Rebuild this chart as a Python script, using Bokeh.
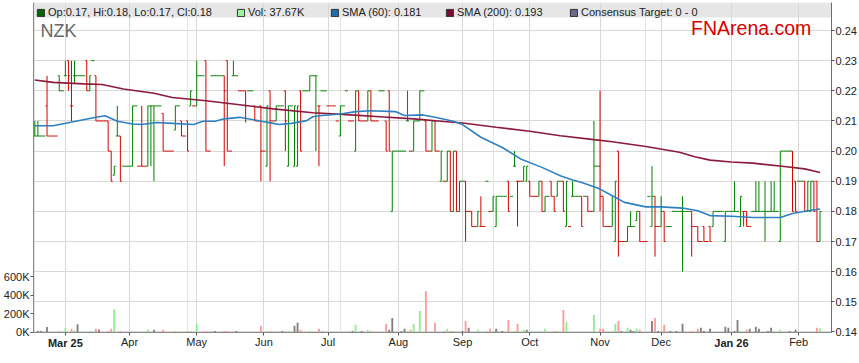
import pandas as pd
from bokeh.plotting import figure
from bokeh.models import (ColumnDataSource, Range1d, LinearAxis, FixedTicker, Grid,
                          BoxAnnotation, Label, Legend, LegendItem, PrintfTickFormatter)
from bokeh.embed import file_html
from bokeh.resources import INLINE

# ---------------- data ----------------
ticker_name = "NZK"
first_trading_day = "2025-02-17"

opens = [
    .205,.205,.205,.205,.215,.205,.205,.205,.225,.22,
    .225,.23,.215,.225,.225,.225,.225,.23,.22,.23,
    .225,.21,.21,.21,.21,.20,.192,.205,.205,.195,
    .195,.195,.195,.215,.195,.195,.195,.195,.215,.215,
    .215,.215,.2125,.20,.20,.20,.207,.215,.21,.205,
    .21,.215,.215,.215,.225,.225,.23,.20,.225,.225,
    .225,.225,.225,.23,.20,.225,.225,.22,.22,.22,
    .22,.22,.215,.21,.215,.20,.195,.22,.21,.21,
    .215,.215,.22,.195,.215,.195,.195,.22,.22,.22,
    .22,.225,.225,.215,.22,.22,.215,.215,.215,.21,
    .205,.215,.22,.21,.21,.20,.22,.21,.21,.21,
    .22,.21,.21,.22,.22,.21,.22,.18,.20,.20,
    .20,.20,.21,.20,.20,.21,.21,.22,.21,.20,
    .20,.21,.20,.19,.19,.19,.20,.18,.20,.18,
    .19,.19,.18,.18,.175,.175,.175,.175,.19,.18,
    .18,.175,.185,.185,.185,.19,.185,.195,.19,.19,
    .19,.19,.19,.185,.185,.185,.19,.18,.185,.19,
    .185,.185,.19,.19,.175,.175,.185,.185,.185,.185,
    .185,.185,.18,.18,.195,.195,.185,.175,.175,.175,
    .17,.20,.17,.17,.17,.175,.175,.177,.18,.17,
    .17,.185,.175,.185,.175,.175,.18,.175,.175,.18,
    .18,.18,.18,.18,.18,.18,.175,.175,.17,.175,
    .17,.175,.175,.18,.18,.18,.17,.18,.18,.18,
    .18,.175,.18,.18,.175,.18,.18,.18,.18,.18,
    .18,.18,.18,.18,.17,.20,.20,.20,.20,.19,
    .19,.19,.19,.18,.18,.19,.19,.17,
]
highs = [
    .21,.21,.205,.205,.225,.205,.205,.205,.225,.22,
    .23,.23,.23,.23,.225,.225,.225,.23,.225,.23,
    .225,.21,.21,.21,.21,.20,.195,.215,.205,.195,
    .195,.195,.215,.215,.195,.215,.195,.215,.215,.215,
    .215,.215,.2125,.20,.20,.20,.215,.215,.21,.205,
    .21,.22,.215,.23,.225,.225,.23,.20,.225,.225,
    .225,.225,.225,.23,.20,.23,.225,.22,.22,.22,
    .22,.22,.215,.21,.215,.20,.215,.22,.21,.215,
    .215,.215,.22,.215,.215,.215,.215,.22,.22,.22,
    .225,.225,.225,.215,.22,.22,.215,.215,.215,.21,
    .215,.215,.22,.21,.21,.22,.22,.21,.21,.22,
    .22,.21,.21,.22,.22,.21,.22,.20,.20,.20,
    .20,.20,.22,.20,.21,.21,.22,.22,.21,.20,
    .21,.21,.20,.20,.19,.20,.20,.20,.20,.19,
    .19,.19,.18,.18,.175,.18,.185,.175,.19,.18,
    .185,.185,.185,.185,.185,.19,.185,.20,.19,.19,
    .195,.195,.19,.185,.185,.19,.19,.185,.185,.19,
    .185,.19,.19,.19,.19,.175,.19,.185,.185,.185,
    .185,.185,.18,.21,.195,.22,.185,.175,.175,.185,
    .19,.20,.17,.17,.175,.18,.175,.18,.18,.17,
    .17,.185,.195,.185,.175,.185,.18,.175,.175,.18,
    .18,.18,.185,.18,.18,.18,.175,.175,.17,.175,
    .17,.175,.18,.18,.18,.18,.18,.18,.18,.19,
    .18,.185,.18,.18,.175,.18,.19,.19,.18,.19,
    .18,.19,.19,.18,.20,.20,.20,.20,.20,.19,
    .19,.19,.19,.19,.19,.19,.19,.18,
]
lows = [
    .205,.205,.205,.205,.205,.205,.205,.205,.22,.22,
    .225,.22,.21,.2225,.225,.225,.225,.22,.22,.23,
    .21,.21,.21,.21,.20,.19,.192,.205,.19,.195,
    .195,.195,.195,.215,.195,.195,.195,.195,.195,.19,
    .215,.215,.20,.20,.20,.20,.207,.215,.205,.205,
    .20,.215,.215,.215,.225,.225,.20,.20,.225,.225,
    .225,.225,.195,.20,.20,.225,.225,.22,.22,.2095,
    .22,.22,.21,.21,.19,.20,.195,.19,.21,.21,
    .215,.215,.20,.195,.215,.195,.195,.20,.22,.22,
    .22,.225,.20,.195,.22,.22,.215,.215,.215,.21,
    .205,.215,.22,.21,.21,.20,.21,.21,.21,.21,
    .21,.21,.21,.22,.22,.20,.20,.18,.20,.20,
    .20,.20,.21,.20,.20,.21,.21,.22,.20,.20,
    .20,.20,.20,.19,.19,.19,.18,.18,.18,.18,
    .19,.17,.18,.175,.175,.175,.175,.175,.19,.18,
    .18,.175,.185,.185,.185,.18,.185,.195,.175,.19,
    .19,.19,.185,.185,.185,.185,.18,.18,.185,.185,
    .18,.185,.19,.18,.175,.175,.185,.185,.185,.175,
    .185,.18,.18,.18,.195,.18,.175,.175,.175,.175,
    .17,.165,.17,.17,.17,.175,.175,.177,.17,.17,
    .17,.185,.175,.165,.175,.175,.17,.175,.175,.18,
    .18,.18,.16,.18,.18,.165,.175,.17,.17,.17,
    .17,.17,.175,.18,.18,.18,.17,.18,.18,.18,
    .18,.175,.175,.175,.175,.18,.18,.18,.18,.17,
    .18,.18,.18,.18,.17,.20,.20,.20,.18,.18,
    .19,.19,.18,.18,.18,.18,.17,.17,
]
closes = [
    .205,.205,.205,.205,.205,.205,.205,.205,.22,.22,
    .225,.225,.215,.225,.225,.225,.225,.22,.225,.23,
    .21,.21,.21,.21,.20,.19,.195,.205,.19,.195,
    .195,.195,.215,.215,.195,.195,.195,.215,.215,.215,
    .215,.215,.20,.20,.20,.20,.215,.215,.205,.205,
    .20,.22,.215,.225,.225,.225,.20,.20,.225,.225,
    .225,.225,.22,.20,.20,.225,.225,.22,.22,.215,
    .22,.22,.21,.21,.20,.20,.215,.21,.21,.215,
    .215,.215,.21,.215,.215,.215,.215,.20,.22,.22,
    .225,.225,.225,.215,.22,.22,.215,.215,.215,.21,
    .215,.215,.22,.21,.21,.22,.21,.21,.21,.22,
    .21,.21,.21,.22,.22,.20,.20,.20,.20,.20,
    .20,.20,.21,.20,.21,.21,.22,.22,.20,.20,
    .21,.20,.20,.20,.19,.20,.18,.20,.18,.19,
    .19,.18,.18,.175,.175,.18,.175,.175,.19,.18,
    .185,.185,.185,.185,.185,.18,.185,.195,.19,.19,
    .195,.195,.185,.185,.185,.19,.18,.185,.185,.185,
    .18,.19,.19,.18,.19,.175,.185,.185,.185,.175,
    .185,.18,.18,.195,.195,.185,.175,.175,.175,.18,
    .19,.17,.17,.17,.175,.175,.175,.18,.17,.17,
    .17,.185,.185,.175,.175,.18,.17,.175,.175,.18,
    .18,.18,.18,.18,.18,.175,.175,.17,.17,.17,
    .17,.17,.18,.18,.18,.18,.18,.18,.18,.18,
    .18,.185,.18,.175,.175,.18,.18,.18,.18,.18,
    .18,.18,.18,.18,.20,.20,.20,.20,.18,.18,
    .19,.19,.18,.19,.19,.18,.17,.18,
]
volume_k = [
    0,10,10,0,53,0,0,0,10,0,
    46,0,35,18,85,0,0,0,10,0,
    35,28,0,0,10,35,247,0,10,0,
    0,0,0,0,0,0,0,28,0,25,
    0,0,25,0,0,0,10,0,0,0,
    10,10,0,88,0,0,10,0,10,10,
    0,0,10,10,0,0,10,0,0,0,
    0,0,0,0,67,0,10,10,0,10,
    0,10,0,10,0,67,99,25,0,0,
    10,0,0,35,10,0,0,0,0,0,
    0,0,0,0,10,78,0,10,0,25,
    10,0,0,0,0,88,25,152,0,0,
    10,35,10,25,88,0,226,0,441,0,
    0,99,0,0,10,35,10,10,0,0,
    10,120,46,0,0,25,0,0,10,35,
    10,35,0,10,0,131,0,10,88,0,
    25,25,0,0,0,10,0,35,0,0,
    10,10,0,237,109,0,0,0,0,0,
    0,0,0,184,0,35,35,0,0,10,
    88,120,10,0,46,25,10,35,25,0,
    0,0,120,152,10,0,78,0,10,0,
    10,0,88,0,0,10,0,35,46,10,
    0,35,0,0,0,0,56,46,0,10,
    131,10,0,25,35,0,56,35,0,0,
    10,46,0,0,25,0,0,10,0,25,
    0,0,0,0,0,0,46,37.67,
]

# moving averages (trading-day index, price)
sma60_x = [0, 6, 13, 20, 23, 27, 32, 35, 40, 45, 52, 55, 59, 62, 67, 72, 78, 80, 84, 89,
           91, 94, 100, 105, 110, 118, 121, 127, 131, 137, 140, 146, 153, 159, 166, 172,
           176, 179, 183, 185, 189, 193, 200, 205, 212, 217, 221, 228, 235, 244, 248, 253, 257]
sma60_y = [0.2084, 0.2084, 0.2098, 0.2112, 0.2117, 0.2099, 0.2090, 0.2088, 0.2095, 0.2092,
           0.2088, 0.2099, 0.2099, 0.2107, 0.2112, 0.2103, 0.2092, 0.2088, 0.2092, 0.2101,
           0.2114, 0.2118, 0.2123, 0.2131, 0.2134, 0.2131, 0.2118, 0.2120, 0.2112, 0.2099,
           0.2088, 0.2046, 0.2012, 0.1974, 0.1946, 0.1918, 0.1904, 0.1896, 0.1882, 0.1874,
           0.1852, 0.1830, 0.1815, 0.1815, 0.1811, 0.1802, 0.1786, 0.1784, 0.1780, 0.1780,
           0.1793, 0.1802, 0.1808]
sma200_x = [0, 6, 16, 22, 29, 39, 45, 56, 67, 78, 91, 102, 113, 124, 134, 140, 151, 162,
            172, 183, 189, 200, 211, 216, 221, 228, 235, 246, 252, 257]
sma200_y = [0.2236, 0.2228, 0.2223, 0.2221, 0.2206, 0.2192, 0.2178, 0.2167, 0.2154, 0.2140,
            0.2127, 0.2121, 0.2114, 0.2107, 0.2098, 0.2093, 0.2079, 0.2066, 0.2051, 0.2038,
            0.2031, 0.2015, 0.1996, 0.1981, 0.1970, 0.1964, 0.1960, 0.1948, 0.1941, 0.1929]

month_labels = ["Mar 25", "Apr", "May", "Jun", "Jul", "Aug", "Sep", "Oct", "Nov", "Dec",
                "Jan 26", "Feb"]
price_ticks = [0.14, 0.15, 0.16, 0.17, 0.18, 0.19, 0.20, 0.21, 0.22, 0.23, 0.24]
volume_ticks = [0, 200, 400, 600]
consensus_text = "Consensus Target: 0 - 0"

# ---------------- derived ----------------
n = len(closes)
dates = pd.bdate_range(first_trading_day, periods=n)
idx = list(range(n))
month_ticks = [i for i in idx if i > 0 and dates[i].month != dates[i - 1].month]
month_ticks = month_ticks[:len(month_labels)]

UP, DOWN = "#008000", "#d40000"
VUP, VDOWN, VFLAT = "#90ee90", "#ff9a9a", "#7f7f7f"
bar_col, vol_col = [], []
prev = UP
for i in idx:
    pc = closes[i - 1] if i > 0 else opens[i]
    if closes[i] > pc + 1e-9:
        col = UP
    elif closes[i] < pc - 1e-9:
        col = DOWN
    elif closes[i] > opens[i] + 1e-9:
        col = UP
    elif closes[i] < opens[i] - 1e-9:
        col = DOWN
    else:
        col = prev
    prev = col
    bar_col.append(col)
    if i == 0 or abs(closes[i] - pc) < 1e-9:
        vol_col.append(VFLAT)
    else:
        vol_col.append(VUP if closes[i] > pc else VDOWN)

FONT = "Liberation Sans"
TXT = "#222222"
FS = "11px"

p = figure(width=859, height=363, output_backend="svg", toolbar_location=None,
           x_range=Range1d(-0.43, 260.76), y_range=Range1d(0.13983, 0.24929),
           x_axis_location=None, y_axis_location=None,
           min_border_left=30, min_border_right=28, min_border_top=2, min_border_bottom=31,
           background_fill_color="white", border_fill_color="white",
           outline_line_color=None)
p.extra_y_ranges = {"vol": Range1d(-5.4, 3562.2)}

# header strip
p.add_layout(BoxAnnotation(bottom=0.24432, fill_color="#e6e6e6", fill_alpha=1.0,
                           line_color=None, level="underlay"))

xt = FixedTicker(ticks=month_ticks, minor_ticks=[])
yt = FixedTicker(ticks=price_ticks, minor_ticks=[])
p.add_layout(Grid(dimension=0, ticker=xt, grid_line_color="#d9d9d9", grid_line_width=1))
p.add_layout(Grid(dimension=1, ticker=yt, grid_line_color="#d9d9d9", grid_line_width=1))

# volume
vsrc = ColumnDataSource(dict(x=idx, top=volume_k, color=vol_col))
p.vbar(x="x", top="top", bottom=0, width=0.6, fill_color="color", line_color=None,
       y_range_name="vol", source=vsrc)

# OHLC bars
src = ColumnDataSource(dict(
    x=idx, xl=[i - 0.5 for i in idx], xr=[i + 0.5 for i in idx],
    o=opens, h=highs, l=lows, c=closes, color=bar_col))
p.segment(x0="x", y0="l", x1="x", y1="h", line_color="color", line_width=1, source=src)
p.segment(x0="xl", y0="o", x1="x", y1="o", line_color="color", line_width=1, source=src)
p.segment(x0="x", y0="c", x1="xr", y1="c", line_color="color", line_width=1, source=src)

# moving averages
p.line(sma200_x, sma200_y, line_color="#8b1a3c", line_width=1.6)
p.line(sma60_x, sma60_y, line_color="#2f80c0", line_width=1.6)

# axes
def style(ax, line_c):
    ax.axis_line_color = line_c
    ax.major_tick_line_color = "#555555"
    ax.major_tick_in = 0
    ax.major_tick_out = 3
    ax.minor_tick_line_color = None
    ax.major_label_text_font = FONT
    ax.major_label_text_font_size = FS
    ax.major_label_text_color = TXT
    ax.major_label_standoff = 1

# time axis: bold year labels on the first axis, ordinary month names on the second
xaxis_bold = LinearAxis(ticker=xt, major_label_overrides={
    t: (lab if " " in lab else "") for t, lab in zip(month_ticks, month_labels)})
style(xaxis_bold, "#8a8a8a")
xaxis_bold.major_label_text_font_style = "bold"
xaxis_norm = LinearAxis(ticker=xt, major_label_overrides={
    t: ("" if " " in lab else lab) for t, lab in zip(month_ticks, month_labels)})
style(xaxis_norm, None)
xaxis_norm.major_tick_line_color = None
xaxis_norm.major_tick_out = 0
xaxis_norm.major_label_standoff = -16

yaxis_r = LinearAxis(ticker=yt, formatter=PrintfTickFormatter(format="%.2f"))
style(yaxis_r, "#6e6e6e")
yaxis_l = LinearAxis(y_range_name="vol", ticker=FixedTicker(ticks=volume_ticks, minor_ticks=[]),
                     formatter=PrintfTickFormatter(format="%dK"))
style(yaxis_l, "#8a8a8a")
p.add_layout(xaxis_bold, "below")
p.add_layout(xaxis_norm, "below")
p.add_layout(yaxis_r, "right")
p.add_layout(yaxis_l, "left")

# titles inside plot
p.add_layout(Label(x=1.9, y=0.2400, text=ticker_name, text_font=FONT, text_font_size="18px",
                   text_color="#666666", text_baseline="middle", text_align="left"))
p.add_layout(Label(x=214.8, y=0.2407, text="FNArena.com", text_font=FONT,
                   text_font_size="19.5px", text_color="#d40000", text_baseline="middle",
                   text_align="left"))

# header legend: one small legend per entry, laid out along the header strip
nan = float("nan")
def swatch(color):
    return p.quad(left=[nan], right=[nan], top=[nan], bottom=[nan], fill_color=color,
                  line_color="#333333", line_width=1)

items = [
    (f"Op:{opens[-1]:.2f}, Hi:{highs[-1]:.2f}, Lo:{lows[-1]:.2f}, Cl:{closes[-1]:.2f}", "#006600"),
    (f"Vol: {volume_k[-1]:.2f}K", "#9ef09e"),
    (f"SMA (60): {sma60_y[-1]:.3f}", "#1f6fb0"),
    (f"SMA (200): {sma200_y[-1]:.3f}", "#7a0a2e"),
    (consensus_text, "#6a6a8a"),
]
header_x = [3, 203, 297, 412, 536]
for (text, color), hx in zip(items, header_x):
    lg = Legend(items=[LegendItem(label=text, renderers=[swatch(color)])],
                orientation="horizontal", location=(hx, 314),
                glyph_width=9, glyph_height=9, label_height=9, label_standoff=3,
                spacing=0, padding=3, margin=0,
                label_text_font=FONT, label_text_font_size=FS, label_text_color=TXT,
                background_fill_alpha=0, border_line_color=None)
    p.add_layout(lg, "center")

open("out.html", "w").write(file_html(p, INLINE))
